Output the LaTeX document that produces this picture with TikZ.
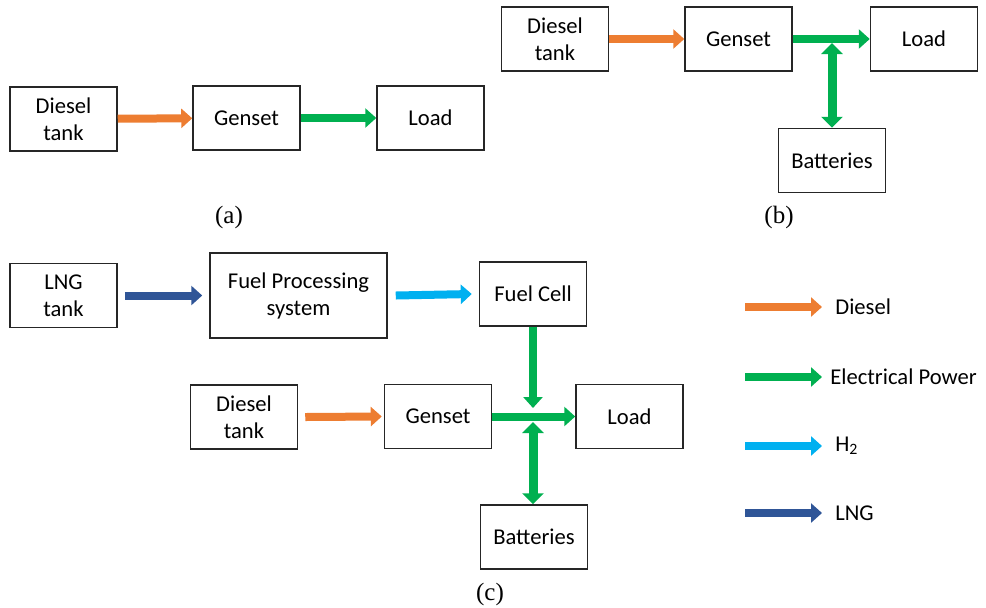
\documentclass[tikz,border=0pt]{standalone}
\usepackage{fontspec}
\setmainfont{Carlito}
\newfontfamily\capfont{Liberation Serif}
\usetikzlibrary{arrows.meta}

\definecolor{dslclr}{RGB}{237,125,49}
\definecolor{dsledge}{RGB}{190,95,35}
\definecolor{pwrclr}{RGB}{0,176,80}
\definecolor{hydclr}{RGB}{0,176,240}
\definecolor{lngclr}{RGB}{47,85,151}

\tikzset{
  box/.style={draw=black!85, line width=0.75pt, minimum width=53.5pt,
    minimum height=32pt, align=center, font=\fontsize{11.3}{13.5}\selectfont},
  flow/.style={line width=4pt, -{Triangle[length=5.5pt,width=9.5pt]}},
  dsl/.style={flow, dslclr},
  pwr/.style={flow, pwrclr},
  pwr2/.style={line width=4.5pt, pwrclr,
    {Triangle[length=5.5pt,width=10.5pt]}-{Triangle[length=5.5pt,width=10.5pt]}},
  hyd/.style={flow, hydclr},
  lng/.style={flow, lngclr},
  lbl/.style={anchor=west, inner xsep=6.5pt, font=\fontsize{11.3}{13.5}\selectfont},
  captext/.style={font=\capfont\fontsize{12.5}{14}\selectfont}
}

\begin{document}
\begin{tikzpicture}[x=0.5pt, y=-0.5pt]
  \useasboundingbox (0,0) rectangle (986,607);

  % (a)
  \node[box] (atank) at (63.5,119) {Diesel\\tank};
  \node[box] (agen)  at (246.5,118) {Genset};
  \node[box] (aload) at (430.5,118) {Load};
  \draw[dsl] (atank) -- (agen);
  \draw[pwr] (agen) -- (aload);
  \node[captext] (acap) at (229,217) {(a)};

  % (b)
  \node[box] (btank) at (555,39) {Diesel\\tank};
  \node[box] (bgen)  at (738.5,39) {Genset};
  \node[box] (bload) at (924,39) {Load};
  \node[box] (bbat)  at (832,160.5) {Batteries};
  \coordinate (bj) at (832,43);
  \draw[dsl] (btank) -- (bgen);
  \draw[pwr] (bgen) -- (bload);
  \draw[pwr2] (bj) -- (bbat);
  \node[captext] (bcap) at (779,217) {(b)};

  % (c)
  \node[box] (ctank) at (63.5,295.5) {LNG\\tank};
  \node[box, minimum width=88.5pt, minimum height=42.5pt] (cfps) at (298.5,295.5) {Fuel Processing\\system};
  \node[box] (ccell) at (533,294) {Fuel Cell};
  \node[box] (cdsl)  at (244,417) {Diesel\\tank};
  \node[box] (cgen)  at (438,416.5) {Genset};
  \node[box] (cload) at (629.5,416.5) {Load};
  \node[box] (cbat)  at (534,537) {Batteries};
  \coordinate (cj) at (533,408);
  \coordinate (cj2) at (533,422);
  \draw[lng] ([xshift=3.5pt]ctank.east) -- ([xshift=-3.5pt]cfps.west);
  \draw[hyd] ([xshift=4pt]cfps.east) -- ([xshift=-3.5pt]ccell.west);
  \draw[dsl] ([xshift=3.5pt]cdsl.east) -- ([xshift=-1pt]cgen.west);
  \draw[pwr] (cgen) -- (cload);
  \draw[pwr] (ccell) -- (cj);
  \draw[pwr2] (cj2) -- (cbat.north -| cj2);
  \node[captext] (ccap) at (490,594) {(c)};

  % legend
  \coordinate (k1) at (745,307);
  \coordinate (k2) at (745,377);
  \coordinate (k3) at (745,446);
  \coordinate (k4) at (745,513);
  \node[lbl] (kdsl) at (822,307) {Diesel};
  \node[lbl, inner xsep=4pt] (kpwr) at (822,377) {Electrical Power};
  \node[lbl] (khyd) at (822,446) {H\textsubscript{2}};
  \node[lbl] (klng) at (822,513) {LNG};
  \draw[dsl] (k1) -- (kdsl.west);
  \draw[pwr] (k2) -- (kpwr.west);
  \draw[hyd] (k3) -- (khyd.west);
  \draw[lng] (k4) -- (klng.west);
\end{tikzpicture}
\end{document}
